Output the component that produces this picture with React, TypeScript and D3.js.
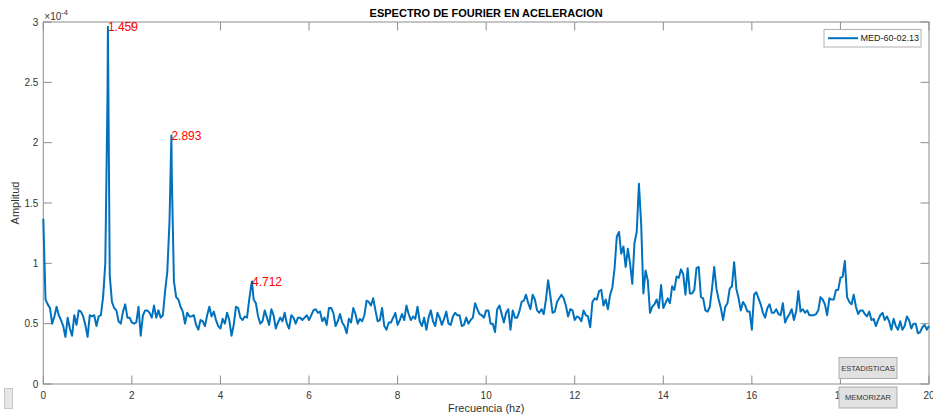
import React from 'react';
import * as d3 from 'd3';

// Spectrum sampled every FREQ_STEP Hz from 0 to 20 Hz (amplitude in units of 1e-4)
const FREQ_STEP = 0.05;
const amplitude = [
  1.37, 0.70, 0.66, 0.63, 0.50, 0.56, 0.64, 0.57, 0.53, 0.48,
  0.39, 0.55, 0.46, 0.40, 0.57, 0.49, 0.61, 0.60, 0.56, 0.49,
  0.39, 0.57, 0.56, 0.57, 0.48, 0.56, 0.57, 0.72, 1.00, 2.40,
  0.90, 0.68, 0.63, 0.61, 0.52, 0.50, 0.60, 0.66, 0.55, 0.55,
  0.51, 0.50, 0.51, 0.64, 0.40, 0.57, 0.61, 0.61, 0.59, 0.55,
  0.65, 0.55, 0.61, 0.55, 0.57, 0.77, 0.93, 1.35, 1.75, 0.85,
  0.72, 0.70, 0.64, 0.60, 0.50, 0.59, 0.56, 0.56, 0.57, 0.49,
  0.45, 0.53, 0.52, 0.48, 0.57, 0.64, 0.56, 0.60, 0.53, 0.48,
  0.46, 0.54, 0.50, 0.59, 0.53, 0.40, 0.49, 0.64, 0.63, 0.55,
  0.53, 0.56, 0.55, 0.70, 0.83, 0.70, 0.67, 0.56, 0.50, 0.52,
  0.61, 0.55, 0.49, 0.62, 0.57, 0.46, 0.51, 0.55, 0.52, 0.59,
  0.50, 0.46, 0.57, 0.55, 0.50, 0.55, 0.55, 0.53, 0.55, 0.57,
  0.53, 0.57, 0.61, 0.62, 0.59, 0.60, 0.52, 0.55, 0.49, 0.63,
  0.63, 0.59, 0.48, 0.52, 0.58, 0.51, 0.48, 0.42, 0.54, 0.51,
  0.63, 0.58, 0.50, 0.54, 0.52, 0.57, 0.69, 0.68, 0.65, 0.71,
  0.61, 0.52, 0.53, 0.63, 0.48, 0.45, 0.51, 0.51, 0.55, 0.59,
  0.49, 0.53, 0.58, 0.53, 0.65, 0.58, 0.53, 0.56, 0.54, 0.64,
  0.52, 0.48, 0.55, 0.45, 0.55, 0.61, 0.52, 0.48, 0.59, 0.55,
  0.49, 0.54, 0.60, 0.50, 0.49, 0.56, 0.59, 0.57, 0.57, 0.48,
  0.49, 0.55, 0.50, 0.53, 0.55, 0.67, 0.62, 0.58, 0.57, 0.55,
  0.61, 0.61, 0.50, 0.50, 0.43, 0.62, 0.65, 0.58, 0.51, 0.59,
  0.62, 0.45, 0.61, 0.55, 0.55, 0.60, 0.68, 0.69, 0.74, 0.67,
  0.62, 0.74, 0.70, 0.61, 0.59, 0.62, 0.58, 0.70, 0.86, 0.73,
  0.59, 0.60, 0.68, 0.71, 0.74, 0.71, 0.65, 0.56, 0.62, 0.61,
  0.53, 0.56, 0.55, 0.52, 0.61, 0.57, 0.56, 0.47, 0.68, 0.71,
  0.70, 0.77, 0.78, 0.65, 0.70, 0.62, 0.74, 0.80, 0.96, 1.22,
  1.26, 1.08, 1.14, 0.97, 1.12, 1.00, 0.83, 1.17, 1.26, 1.66,
  1.33, 0.75, 0.94, 0.86, 0.59, 0.64, 0.66, 0.70, 0.63, 0.82,
  0.63, 0.67, 0.71, 0.67, 0.81, 0.78, 0.89, 0.88, 0.95, 0.91,
  0.74, 0.96, 0.75, 0.75, 0.78, 0.96, 0.97, 0.72, 0.71, 0.61,
  0.60, 0.64, 0.79, 0.97, 0.79, 0.70, 0.63, 0.53, 0.64, 0.67,
  0.79, 0.81, 1.01, 0.79, 0.71, 0.61, 0.68, 0.65, 0.60, 0.60,
  0.45, 0.74, 0.76, 0.71, 0.66, 0.59, 0.55, 0.63, 0.66, 0.59,
  0.59, 0.62, 0.58, 0.57, 0.67, 0.51, 0.55, 0.58, 0.62, 0.53,
  0.60, 0.77, 0.60, 0.62, 0.59, 0.61, 0.57, 0.57, 0.57, 0.58,
  0.61, 0.72, 0.70, 0.66, 0.57, 0.71, 0.70, 0.70, 0.78, 0.78,
  0.88, 0.89, 1.02, 0.72, 0.68, 0.66, 0.74, 0.64, 0.58, 0.61,
  0.61, 0.58, 0.56, 0.60, 0.53, 0.54, 0.48, 0.53, 0.57, 0.59,
  0.53, 0.56, 0.52, 0.45, 0.54, 0.48, 0.45, 0.52, 0.45, 0.48,
  0.56, 0.53, 0.46, 0.50, 0.50, 0.42, 0.43, 0.47, 0.49, 0.45,
  0.48,
];

// Labelled spectral peaks (Hz, amplitude in units of 1e-4)
const peakFreqs = [1.459, 2.893, 4.712];
const peakAmps = [2.96, 2.06, 0.85];

const xTickValues = [0, 2, 4, 6, 8, 10, 12, 14, 16, 18, 20];
const yTickValues = [0, 0.5, 1, 1.5, 2, 2.5, 3];
const yTickLabels = ['0', '0.5', '1', '1.5', '2', '2.5', '3'];

const seriesName = 'MED-60-02.13';
const titleText = 'ESPECTRO DE FOURIER EN ACELERACION';
const xLabel = 'Frecuencia (hz)';
const yLabel = 'Amplitud';
const buttonLabels = ['ESTADISTICAS', 'MEMORIZAR'];

const FONT = '"Liberation Sans", Arial, Helvetica, sans-serif';
const LINE_COLOR = '#0072BD';
const AXIS_COLOR = '#8c8c8c';
const TEXT_COLOR = '#333333';

type Pt = { f: number; a: number };

export default function App() {
  const W = 933;
  const H = 416;
  const left = 43.3, right = 929, top = 22, bottom = 384;

  const x = d3.scaleLinear().domain([0, 20]).range([left, right]);
  const y = d3.scaleLinear().domain([0, 3]).range([bottom, top]);

  const points: Pt[] = amplitude.map((a, i) => ({ f: i * FREQ_STEP, a }));
  peakFreqs.forEach((f, i) => points.push({ f, a: peakAmps[i] }));
  points.sort((p, q) => p.f - q.f);

  const line = d3
    .line<Pt>()
    .x((d) => x(d.f))
    .y((d) => y(d.a));

  const tickLen = 8.5;

  return (
    <div style={{ position: 'absolute', left: 0, top: 0, width: W, height: H, background: '#fff' }}>
      <svg width={W} height={H} style={{ display: 'block', fontFamily: FONT }}>
        <rect x={0} y={0} width={W} height={H} fill="#ffffff" />

        {/* title */}
        <text x={(left + right) / 2} y={17} textAnchor="middle" fontSize={11} fontWeight="bold" fill="#000">
          {titleText}
        </text>

        {/* axes box */}
        <rect x={left} y={top} width={right - left} height={bottom - top} fill="#fff" stroke={AXIS_COLOR} strokeWidth={1} />

        {/* x ticks (bottom and top) */}
        {xTickValues.map((t) => (
          <g key={'xt' + t}>
            <line x1={x(t)} x2={x(t)} y1={bottom} y2={bottom - tickLen} stroke={AXIS_COLOR} />
            <line x1={x(t)} x2={x(t)} y1={top} y2={top + tickLen} stroke={AXIS_COLOR} />
            <text x={x(t)} y={399} textAnchor="middle" fontSize={10} fill={TEXT_COLOR}>
              {String(t)}
            </text>
          </g>
        ))}

        {/* y ticks (left and right) */}
        {yTickValues.map((t, i) => (
          <g key={'yt' + t}>
            <line x1={left} x2={left + tickLen} y1={y(t)} y2={y(t)} stroke={AXIS_COLOR} />
            <line x1={right} x2={right - tickLen} y1={y(t)} y2={y(t)} stroke={AXIS_COLOR} />
            <text x={left - 5} y={y(t)} dy="0.35em" textAnchor="end" fontSize={10} fill={TEXT_COLOR}>
              {yTickLabels[i]}
            </text>
          </g>
        ))}

        {/* exponent marker */}
        <text x={left + 1} y={20} fontSize={10} fill={TEXT_COLOR}>
          ×10
          <tspan fontSize={7.5} dy={-5}>-4</tspan>
        </text>

        {/* axis labels */}
        <text x={(left + right) / 2} y={412} textAnchor="middle" fontSize={11} fill={TEXT_COLOR}>
          {xLabel}
        </text>
        <text
          transform={`translate(19, ${(top + bottom) / 2}) rotate(-90)`}
          textAnchor="middle"
          fontSize={11}
          fill={TEXT_COLOR}
        >
          {yLabel}
        </text>

        {/* spectrum */}
        <path d={line(points) || ''} fill="none" stroke={LINE_COLOR} strokeWidth={2} strokeLinejoin="round" />

        {/* peak annotations */}
        {peakFreqs.map((f, i) => (
          <text key={'pk' + i} x={x(f)} y={y(peakAmps[i])} dy="0.35em" fontSize={12} fill="#ff0000">
            {f.toFixed(3)}
          </text>
        ))}

        {/* legend */}
        <rect x={824} y={29.5} width={97} height={17.5} fill="#fff" stroke="#b0b0b0" strokeWidth={1} />
        <line x1={828} x2={858} y1={38.2} y2={38.2} stroke={LINE_COLOR} strokeWidth={2} />
        <text x={860.5} y={38.2} dy="0.35em" fontSize={9} fill="#222">
          {seriesName}
        </text>

        {/* control buttons */}
        {buttonLabels.map((label, i) => (
          <g key={label}>
            <rect x={839} y={357.5 + i * 29.5} width={58} height={21} fill="#e1e1e1" stroke="#adadad" strokeWidth={1} />
            <text x={868} y={368 + i * 29.5} dy="0.35em" textAnchor="middle" fontSize={7.5} fill="#333">
              {label}
            </text>
          </g>
        ))}

        {/* side widget */}
        <rect x={4.5} y={388.5} width={8} height={20} fill="#e6e6e6" stroke="#c8c8c8" strokeWidth={1} />
      </svg>
    </div>
  );
}
